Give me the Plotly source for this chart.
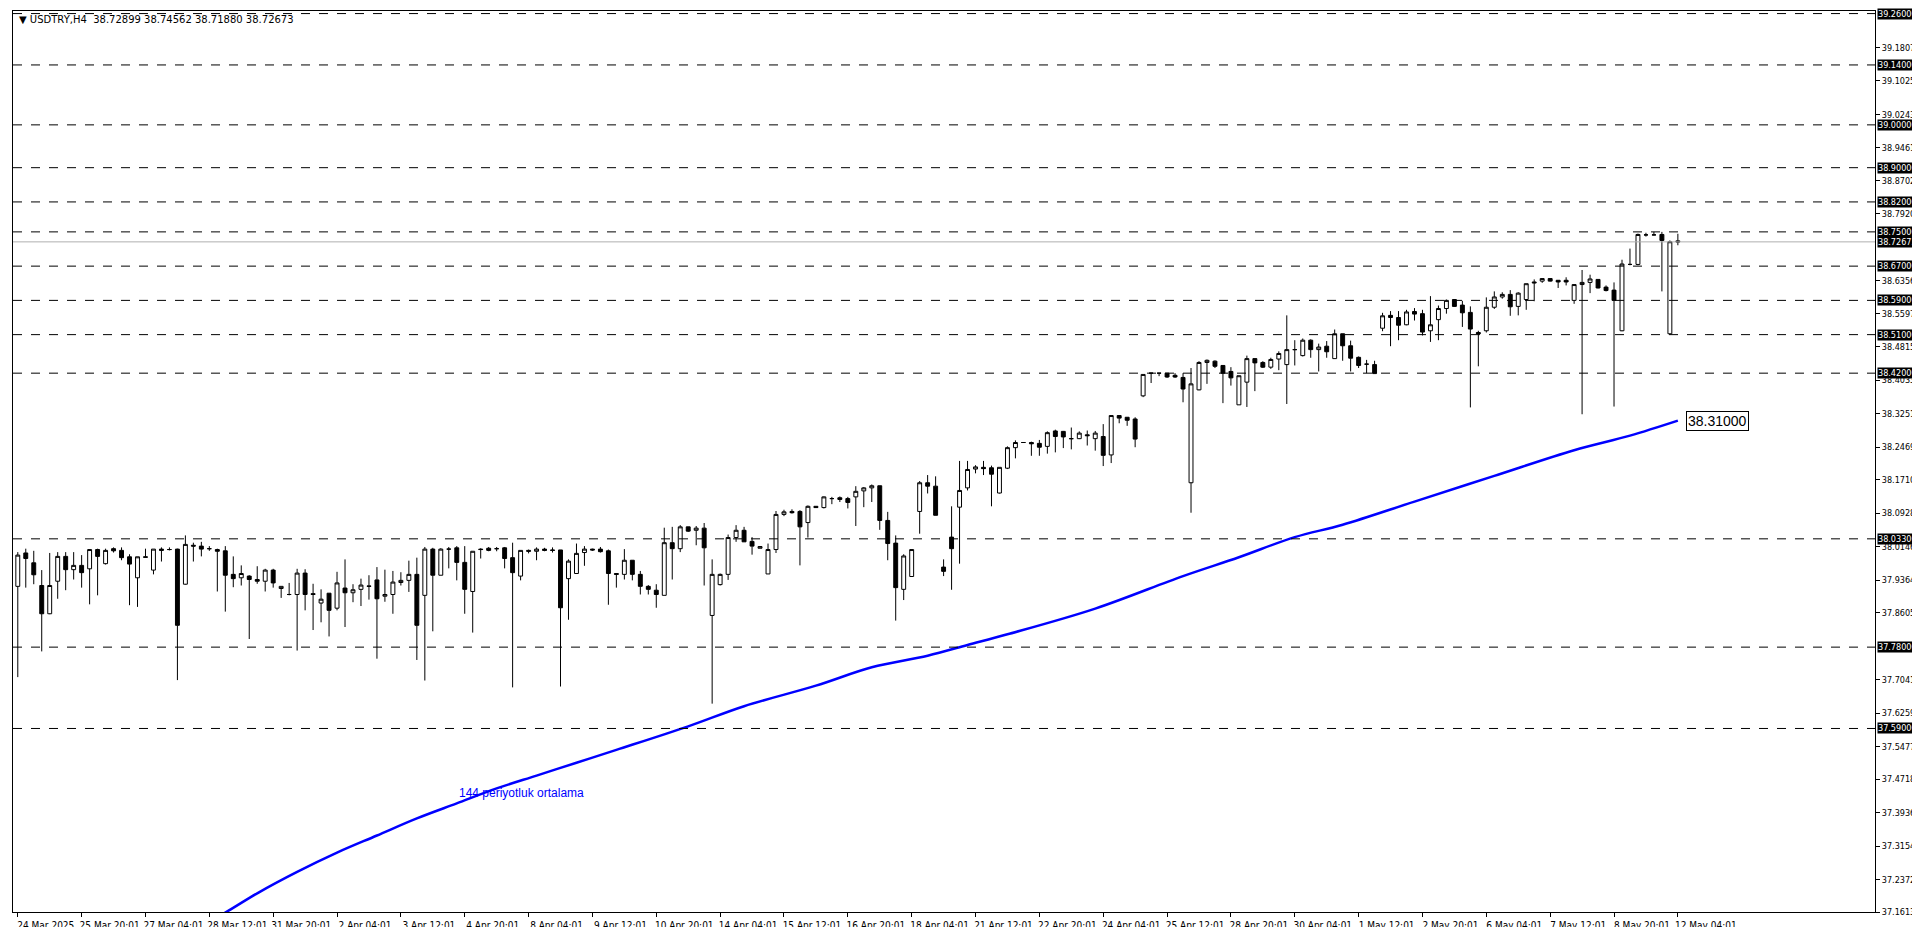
import plotly.graph_objects as go
import pandas as pd

# USDTRY H4 candles, 24 Mar 2025 12:01 -> 12 May 2025 04:01
opens = [37.922, 38.0, 37.977, 37.924, 37.858, 37.934, 37.992, 37.961, 37.971, 37.963, 38.008, 37.975, 38.01, 38.006, 37.991, 37.942, 37.991, 37.96, 38.009, 38.008, 38.009, 37.927, 38.018, 38.016, 38.01, 38.008, 38.005, 37.95, 37.942, 37.946, 37.938, 37.934, 37.96, 37.917, 37.903, 37.903, 37.953, 37.905, 37.883, 37.906, 37.871, 37.918,
         37.907, 37.915, 37.923, 37.937, 37.899, 37.903, 37.931, 37.936, 37.95, 37.901, 38.009, 37.948, 38.009, 38.012, 37.978, 37.91, 38.009, 38.011, 38.01, 38.012, 37.989, 37.946, 38.006, 38.004, 38.009, 38.007, 38.007, 37.94, 37.952, 38.001, 38.009, 38.009, 38.005, 37.952, 37.95, 37.983, 37.95, 37.922, 37.913, 37.901, 38.024,
         38.01, 38.061, 38.053, 38.058, 37.854, 37.926, 37.95, 38.036, 38.053, 38.027, 38.011, 37.951, 38.008, 38.09, 38.097, 38.097, 38.071, 38.109, 38.106, 38.127, 38.129, 38.127, 38.131, 38.145, 38.152, 38.157, 38.076, 38.023, 37.915, 37.945, 38.097, 38.164, 38.156, 37.967, 38.037, 38.107, 38.152, 38.196, 38.2, 38.199, 38.14,
         38.198, 38.246, 38.258, 38.258, 38.256, 38.249, 38.285, 38.284, 38.267, 38.267, 38.276, 38.267, 38.272, 38.229, 38.321, 38.317, 38.313, 38.367, 38.42, 38.42, 38.42, 38.415, 38.41, 38.164, 38.381, 38.445, 38.448, 38.438, 38.424, 38.346, 38.399, 38.454, 38.445, 38.434, 38.453, 38.44, 38.475, 38.461, 38.497, 38.475, 38.483, 38.454,
         38.512, 38.484, 38.457, 38.441, 38.44, 38.525, 38.555, 38.55, 38.533, 38.564, 38.559, 38.519, 38.545, 38.571, 38.592, 38.579, 38.562, 38.515, 38.519, 38.574, 38.598, 38.604, 38.576, 38.592, 38.633, 38.635, 38.641, 38.637, 38.637, 38.59, 38.627, 38.632, 38.639, 38.621, 38.614, 38.519, 38.674, 38.674, 38.743, 38.743, 38.744, 38.512, 38.72899]
highs = [38.002, 38.01, 38.005, 37.96, 38.0, 38.002, 38.002, 38.002, 37.995, 38.008, 38.01, 38.01, 38.013, 38.013, 37.997, 37.991, 38.01, 38.009, 38.013, 38.013, 38.01, 38.041, 38.024, 38.026, 38.016, 38.01, 38.016, 37.992, 37.971, 37.948, 37.969, 37.963, 37.963, 37.922, 37.93, 37.963, 37.962, 37.928, 37.915, 37.906, 37.956, 37.985,
         37.927, 37.94, 37.948, 37.967, 37.961, 37.958, 37.955, 37.982, 37.989, 38.014, 38.012, 38.011, 38.014, 38.016, 38.016, 38.004, 38.011, 38.014, 38.014, 38.014, 38.024, 38.006, 38.008, 38.013, 38.012, 38.013, 38.007, 37.985, 38.022, 38.016, 38.01, 38.014, 38.008, 37.952, 38.009, 37.983, 37.958, 37.925, 37.927, 38.059, 38.061,
         38.065, 38.061, 38.063, 38.07, 37.985, 37.952, 38.043, 38.065, 38.061, 38.037, 38.016, 38.022, 38.098, 38.101, 38.102, 38.1, 38.111, 38.109, 38.132, 38.131, 38.132, 38.131, 38.156, 38.154, 38.16, 38.157, 38.096, 38.041, 37.997, 38.008, 38.168, 38.182, 38.179, 37.985, 38.109, 38.215, 38.215, 38.205, 38.215, 38.204, 38.2,
         38.249, 38.263, 38.259, 38.26, 38.264, 38.284, 38.288, 38.285, 38.293, 38.284, 38.286, 38.285, 38.301, 38.321, 38.321, 38.317, 38.317, 38.417, 38.42, 38.42, 38.42, 38.42, 38.42, 38.432, 38.448, 38.452, 38.45, 38.438, 38.434, 38.414, 38.461, 38.454, 38.448, 38.456, 38.471, 38.555, 38.497, 38.501, 38.499, 38.489, 38.495, 38.522,
         38.512, 38.496, 38.459, 38.451, 38.449, 38.561, 38.565, 38.565, 38.568, 38.572, 38.568, 38.6, 38.578, 38.592, 38.593, 38.589, 38.576, 38.519, 38.597, 38.611, 38.609, 38.614, 38.609, 38.629, 38.639, 38.641, 38.641, 38.637, 38.644, 38.627, 38.661, 38.65, 38.639, 38.625, 38.632, 38.685, 38.711, 38.746, 38.748, 38.75, 38.75, 38.73, 38.74562]
lows = [37.71, 37.919, 37.927, 37.77, 37.857, 37.893, 37.913, 37.938, 37.919, 37.88, 37.901, 37.973, 38.001, 37.983, 37.878, 37.874, 37.99, 37.95, 37.98, 38.006, 37.703, 37.926, 37.98, 37.992, 38.005, 37.91, 37.863, 37.92, 37.924, 37.799, 37.928, 37.91, 37.919, 37.895, 37.901, 37.772, 37.866, 37.82, 37.838, 37.805, 37.866, 37.827,
        37.885, 37.876, 37.891, 37.753, 37.886, 37.858, 37.924, 37.909, 37.75, 37.702, 37.817, 37.948, 37.964, 37.936, 37.858, 37.814, 37.987, 38.004, 38.004, 37.964, 37.686, 37.936, 37.999, 37.983, 38.004, 38.001, 37.688, 37.844, 37.952, 37.97, 38.005, 38.001, 37.879, 37.919, 37.938, 37.936, 37.903, 37.903, 37.872, 37.901, 37.938,
        38.002, 38.049, 38.018, 37.924, 37.648, 37.924, 37.937, 38.026, 38.026, 37.996, 38.011, 37.951, 38.0, 38.086, 38.092, 37.971, 38.036, 38.106, 38.104, 38.114, 38.119, 38.104, 38.063, 38.107, 38.119, 38.054, 37.983, 37.842, 37.89, 37.945, 38.045, 38.139, 38.088, 37.946, 37.914, 37.975, 38.146, 38.186, 38.182, 38.109, 38.139,
        38.196, 38.221, 38.257, 38.227, 38.227, 38.232, 38.235, 38.245, 38.242, 38.266, 38.251, 38.239, 38.203, 38.21, 38.303, 38.297, 38.247, 38.364, 38.397, 38.413, 38.409, 38.409, 38.352, 38.094, 38.38, 38.395, 38.432, 38.35, 38.391, 38.346, 38.341, 38.378, 38.432, 38.43, 38.427, 38.348, 38.438, 38.459, 38.456, 38.424, 38.456, 38.454,
        38.449, 38.424, 38.432, 38.42, 38.419, 38.518, 38.483, 38.497, 38.532, 38.543, 38.508, 38.493, 38.497, 38.559, 38.575, 38.528, 38.34, 38.436, 38.515, 38.57, 38.594, 38.554, 38.555, 38.568, 38.588, 38.631, 38.634, 38.619, 38.625, 38.582, 38.324, 38.607, 38.618, 38.611, 38.342, 38.518, 38.672, 38.672, 38.739, 38.742, 38.611, 38.51, 38.7188]
closes = [37.995, 37.987, 37.949, 37.858, 37.924, 37.992, 37.961, 37.971, 37.954, 38.008, 37.992, 38.006, 38.005, 37.989, 37.974, 37.991, 37.99, 38.009, 38.006, 38.008, 37.831, 38.02, 38.016, 38.009, 38.01, 38.004, 37.948, 37.94, 37.952, 37.938, 37.934, 37.96, 37.93, 37.922, 37.903, 37.953, 37.903, 37.903, 37.892, 37.866, 37.93, 37.907,
          37.914, 37.925, 37.922, 37.893, 37.903, 37.932, 37.936, 37.95, 37.831, 38.009, 37.948, 38.009, 38.009, 37.978, 37.915, 38.004, 38.008, 38.006, 38.01, 37.987, 37.954, 38.006, 38.004, 38.009, 38.006, 38.006, 37.872, 37.981, 37.999, 38.009, 38.007, 38.003, 37.952, 37.95, 37.983, 37.95, 37.922, 37.915, 37.903, 38.024, 38.01,
          38.061, 38.051, 38.058, 38.012, 37.95, 37.95, 38.036, 38.053, 38.026, 38.016, 38.015, 38.008, 38.09, 38.096, 38.094, 38.061, 38.109, 38.106, 38.131, 38.127, 38.125, 38.118, 38.144, 38.152, 38.157, 38.076, 38.022, 37.919, 37.993, 38.008, 38.164, 38.156, 38.088, 37.957, 38.01, 38.146, 38.195, 38.201, 38.197, 38.184, 38.2,
          38.246, 38.258, 38.258, 38.255, 38.247, 38.281, 38.272, 38.271, 38.267, 38.28, 38.274, 38.28, 38.228, 38.321, 38.315, 38.31, 38.266, 38.417, 38.42, 38.42, 38.411, 38.411, 38.383, 38.395, 38.445, 38.45, 38.436, 38.42, 38.409, 38.414, 38.454, 38.444, 38.434, 38.452, 38.466, 38.475, 38.475, 38.497, 38.475, 38.481, 38.47, 38.512,
          38.484, 38.455, 38.438, 38.441, 38.419, 38.554, 38.55, 38.532, 38.563, 38.558, 38.516, 38.533, 38.571, 38.59, 38.576, 38.561, 38.523, 38.512, 38.574, 38.598, 38.604, 38.575, 38.607, 38.629, 38.631, 38.641, 38.635, 38.633, 38.633, 38.627, 38.632, 38.64, 38.619, 38.613, 38.59, 38.675, 38.674, 38.744, 38.743, 38.743, 38.73, 38.727, 38.72673]

# 144-period moving average, read at a few bars
ma_bar = [22, 26, 30, 35, 40, 45, 50, 55, 60, 65, 70, 75, 84, 91, 100, 107, 114, 119, 124, 135, 146, 153, 160, 166, 175, 185, 195, 202, 208]
ma_val = [37.12, 37.16, 37.205, 37.255, 37.3, 37.34, 37.38, 37.415, 37.45, 37.48, 37.51, 37.54, 37.595, 37.642, 37.69, 37.733, 37.76, 37.785, 37.81, 37.87, 37.946, 37.99, 38.037, 38.066, 38.12, 38.18, 38.24, 38.274, 38.309]

levels = [39.26, 39.14, 39.00, 38.90, 38.82, 38.75, 38.67, 38.59, 38.51, 38.42, 38.033, 37.78, 37.59]
axis_ticks = [39.1807, 39.1025, 39.0243, 38.9461, 38.8702, 38.792, 38.6356, 38.5597, 38.4815, 38.4033,
              38.3251, 38.2469, 38.171, 38.0928, 38.0146, 37.9364, 37.8605, 37.7041, 37.6259, 37.5477, 37.4718,
              37.3936, 37.3154, 37.2372, 37.1613]
last_price = 38.72673

n = len(closes)
assert len(opens) == len(highs) == len(lows) == n == 209

# H4 bar times, weekdays only
times = [t for t in pd.date_range("2025-03-24 12:01", "2025-05-12 04:01", freq="4h") if t.weekday() < 5]
times = times[:n]
xs = list(range(n))
tick_pos = xs[::8]
tick_txt = ["24 Mar 2025"] + [times[i].strftime("%-d %b %H:%M") for i in tick_pos[1:]]

box_font = dict(color="white", size=9, family="DejaVu Sans Condensed")

fig = go.Figure()
fig.add_trace(go.Candlestick(
    x=xs, open=opens, high=highs, low=lows, close=closes,
    increasing=dict(line=dict(color="black", width=1), fillcolor="white"),
    decreasing=dict(line=dict(color="black", width=1), fillcolor="black"),
    whiskerwidth=0, showlegend=False, hoverinfo="skip"))
fig.add_trace(go.Scatter(x=ma_bar, y=ma_val, mode="lines", line=dict(color="#0000ff", width=2.5, shape="spline"),
                         showlegend=False, hoverinfo="skip"))

for lv in levels:
    fig.add_shape(type="line", xref="paper", x0=0, x1=1, y0=lv, y1=lv,
                  line=dict(color="black", width=1, dash="dash"))
    fig.add_annotation(xref="paper", x=1.001, y=lv, xanchor="left", text=f"{lv:.5f}", showarrow=False,
                       bgcolor="black", font=box_font, borderpad=0)
fig.add_shape(type="line", xref="paper", x0=0, x1=1, y0=last_price, y1=last_price,
              line=dict(color="#b0b0b0", width=1))
fig.add_annotation(xref="paper", x=1.001, y=last_price, xanchor="left", text=f"{last_price:.5f}", showarrow=False,
                   bgcolor="black", font=box_font, borderpad=0)

fig.add_annotation(x=ma_bar[-1] + 1, y=ma_val[-1], xanchor="left", text="38.31000", showarrow=False,
                   bgcolor="white", bordercolor="black", borderwidth=1, borderpad=1,
                   font=dict(color="black", size=14, family="Liberation Sans"))
fig.add_annotation(x=55, y=37.44, xanchor="left", text="144 periyotluk ortalama", showarrow=False,
                   font=dict(color="#0000ff", size=12, family="Liberation Sans"))
fig.add_annotation(xref="paper", yref="paper", x=0.002, y=0.999, xanchor="left", yanchor="top",
                   text="▼ USDTRY,H4  38.72899 38.74562 38.71880 38.72673", showarrow=False,
                   font=dict(color="black", size=10, family="DejaVu Sans"))

fig.update_layout(
    width=1920, height=927, margin=dict(l=5, r=53, t=3, b=23),
    paper_bgcolor="white", plot_bgcolor="white",
    xaxis=dict(range=[-0.6, 232.7], rangeslider=dict(visible=False), showgrid=False, zeroline=False,
               tickvals=tick_pos, ticktext=tick_txt, ticks="outside", ticklen=4, tickcolor="black",
               ticklabelshift=28, tickfont=dict(size=10, family="DejaVu Sans Condensed", color="black"),
               showline=True, linecolor="black", mirror=True),
    yaxis=dict(range=[37.1613, 39.266], side="right", showgrid=False, zeroline=False,
               tickvals=axis_ticks, ticktext=[f"{v:.5f}" for v in axis_ticks], ticks="outside", ticklen=4,
               tickcolor="black", tickfont=dict(size=9, family="DejaVu Sans Condensed", color="black"),
               showline=True, linecolor="black", mirror=True),
)

fig.write_html("out.html")
